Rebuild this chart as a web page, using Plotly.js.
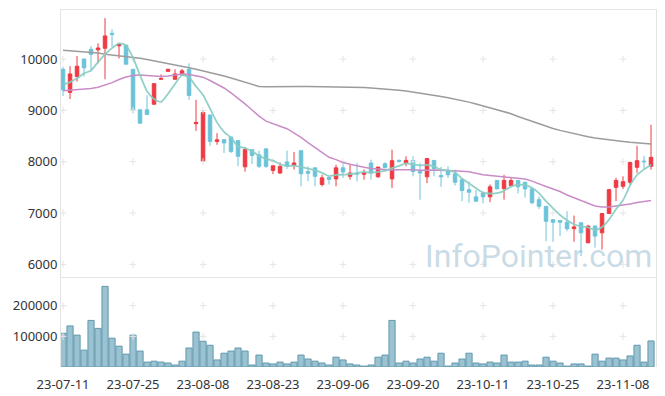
<!DOCTYPE html>
<html>
<head>
<meta charset="utf-8">
<script src="https://cdn.plot.ly/plotly-3.0.1.min.js"></script>
<style>
  html, body { margin: 0; padding: 0; background: #ffffff; }
  #chart { width: 665px; height: 396px; }
</style>
</head>
<body>
<div id="chart"></div>
<script>
// ---- Data ----
const dates = [
  "23-07-11","23-07-12","23-07-13","23-07-14","23-07-17","23-07-18","23-07-19","23-07-20","23-07-21","23-07-24",
  "23-07-25","23-07-26","23-07-27","23-07-28","23-07-31","23-08-01","23-08-02","23-08-03","23-08-04","23-08-07",
  "23-08-08","23-08-09","23-08-10","23-08-11","23-08-14","23-08-16","23-08-17","23-08-18","23-08-21","23-08-22",
  "23-08-23","23-08-24","23-08-25","23-08-28","23-08-29","23-08-30","23-08-31","23-09-01","23-09-04","23-09-05",
  "23-09-06","23-09-07","23-09-08","23-09-11","23-09-12","23-09-13","23-09-14","23-09-15","23-09-18","23-09-19",
  "23-09-20","23-09-21","23-09-22","23-09-25","23-09-26","23-09-27","23-10-04","23-10-05","23-10-06","23-10-10",
  "23-10-11","23-10-12","23-10-13","23-10-16","23-10-17","23-10-18","23-10-19","23-10-20","23-10-23","23-10-24",
  "23-10-25","23-10-26","23-10-27","23-10-30","23-10-31","23-11-01","23-11-02","23-11-03","23-11-06","23-11-07",
  "23-11-08","23-11-09","23-11-10","23-11-13","23-11-14"
];
const openP = [
  9800,9350,9660,10000,10190,10180,10210,10500,10258,10270,
  9800,9010,9010,9120,9605,9760,9605,9690,9800,8740,
  8006,8910,8395,8430,8480,8410,7900,8235,8135,8250,
  7830,7780,7995,7930,8215,7810,7880,7555,7695,7665,
  7880,7715,7780,7755,7975,7705,7960,7665,8025,7975,
  8025,7810,7705,8025,7730,7830,7765,7650,7455,7315,
  7390,7315,7635,7475,7535,7635,7600,7470,7260,7130,
  6870,6855,6820,6695,6810,6420,6745,6615,6990,7500,
  7520,7600,7890,8010,7910
];
const highP = [
  9850,9860,10060,10000,10250,10305,10796,10580,10290,10275,
  9800,9010,9295,9530,9700,9810,9800,9805,9915,9205,
  8996,8910,8555,8430,8480,8410,8285,8235,8215,8250,
  7925,7985,8215,8190,8215,7910,7880,7745,7700,7940,
  8005,7940,7975,7850,8040,7900,7990,8235,8045,8105,
  8105,7975,8060,8025,7900,7910,7845,7650,7615,7450,
  7420,7555,7640,7745,7680,7640,7600,7470,7320,7135,
  6880,6860,7035,6950,6820,6770,6760,7000,7470,7685,
  7715,8000,8310,8115,8720
];
const lowP = [
  9280,9220,9560,9660,9760,9915,9605,10230,10010,9895,
  8945,8750,8915,9110,9600,9750,9600,9685,9205,8600,
  8006,8310,8330,8170,8170,7910,7805,7955,7880,7880,
  7760,7760,7860,7845,7520,7620,7520,7515,7555,7520,
  7685,7650,7615,7650,7650,7690,7885,7490,7985,7910,
  7715,7260,7580,7715,7510,7685,7535,7230,7200,7230,
  7190,7210,7465,7260,7530,7380,7300,7170,7080,6450,
  6440,6550,6645,6440,6160,6420,6325,6290,6990,7230,
  7470,7550,7780,7860,7845
];
const closeP = [
  9400,9710,9860,9830,10090,10215,10450,10480,10285,9900,
  9010,8750,8920,9520,9620,9800,9710,9770,9290,8765,
  8957,8395,8425,8365,8200,8105,8235,8120,7910,7910,
  7920,7905,7915,7975,7765,7775,7715,7685,7655,7880,
  7800,7780,7760,7790,7780,7895,7885,8020,8005,8025,
  7810,7780,8060,7865,7705,7745,7600,7440,7405,7230,
  7315,7510,7470,7635,7635,7510,7470,7200,7130,6840,
  6820,6820,6695,6730,6615,6745,6550,6990,7455,7635,
  7610,7985,8020,8000,8085
];
const volume = [
  110000,134000,104000,55000,152000,126000,263000,94000,68000,42000,
  104000,52000,16000,19000,16000,13000,6500,19000,62000,114000,
  84000,71000,23000,45000,52000,62000,52000,6500,39000,13000,
  10000,16000,10000,16000,39000,26000,19000,13000,6500,32000,
  23000,10000,6500,3000,6500,32000,39000,152000,13000,19000,
  13000,26000,32000,19000,45000,3000,13000,26000,45000,13000,
  10000,16000,13000,39000,16000,16000,19000,6500,6500,32000,
  19000,13000,3000,10000,10000,3000,42000,19000,29000,29000,
  23000,36000,71000,16000,85000
];
const ma5 = [
  9495,9550,9625,9720,9778,9941,10089,10213,10304,10266,
  10025,9685,9373,9220,9164,9322,9514,9684,9638,9467,
  9298,9035,8766,8581,8468,8298,8266,8205,8114,8056,
  8019,7953,7912,7925,7896,7867,7829,7783,7719,7742,
  7747,7760,7775,7802,7782,7801,7822,7874,7917,7966,
  7949,7928,7936,7908,7844,7831,7795,7671,7579,7484,
  7398,7380,7386,7432,7513,7552,7544,7490,7389,7230,
  7092,6962,6861,6781,6736,6721,6667,6726,6871,7075,
  7248,7535,7741,7850,7940
];
const ma20 = [
  9380,9390,9400,9410,9425,9450,9490,9540,9600,9650,
  9680,9690,9680,9665,9660,9670,9690,9710,9700,9669,
  9647,9581,9509,9436,9341,9236,9125,9007,8888,8789,
  8734,8692,8642,8565,8472,8371,8271,8167,8085,8041,
  7983,7952,7919,7890,7869,7859,7841,7836,7841,7847,
  7841,7835,7842,7837,7834,7832,7826,7814,7802,7769,
  7745,7731,7717,7709,7702,7683,7662,7621,7577,7518,
  7468,7420,7352,7295,7241,7191,7138,7116,7118,7139,
  7153,7177,7205,7223,7245
];
const ma60 = [
  10170,10160,10150,10140,10130,10115,10095,10080,10065,10045,
  10030,10015,9990,9965,9940,9915,9890,9860,9830,9800,
  9770,9740,9705,9670,9630,9590,9545,9500,9465,9460,
  9458,9458,9460,9462,9463,9463,9462,9461,9460,9458,
  9455,9452,9448,9443,9436,9428,9418,9406,9392,9375,
  9357,9338,9318,9296,9272,9246,9220,9190,9160,9125,
  9090,9050,9010,8970,8935,8880,8830,8780,8730,8685,
  8645,8610,8575,8540,8510,8485,8460,8440,8425,8410,
  8395,8380,8368,8358,8345
];
const priceTicks = [6000, 7000, 8000, 9000, 10000];
const volumeTicks = [100000, 200000];
const dateTickIdx = [0, 10, 20, 30, 40, 50, 60, 70, 80];

// ---- Build ----
const tickDates = dateTickIdx.map(i => dates[i]);
const gridX = [], gridY = [], gridX2 = [], gridY2 = [];
tickDates.forEach(d => {
  priceTicks.forEach(p => { gridX.push(d); gridY.push(p); });
  volumeTicks.forEach(v => { gridX2.push(d); gridY2.push(v); });
});

const RED = '#ee3a43';
const BLUE = '#6cc3d9';
const crossMarker = { symbol: 'cross-thin', size: 5, line: { color: '#e4e4e4', width: 1 } };

const traces = [
  { type: 'candlestick', x: dates, open: openP, high: highP, low: lowP, close: closeP,
    xaxis: 'x', yaxis: 'y', whiskerwidth: 0,
    increasing: { line: { color: RED, width: 1 }, fillcolor: RED },
    decreasing: { line: { color: BLUE, width: 1 }, fillcolor: BLUE },
    showlegend: false, hoverinfo: 'skip' },
  { type: 'bar', x: dates, y: volume, xaxis: 'x2', yaxis: 'y2',
    marker: { color: 'rgba(143,187,204,0.9)', line: { color: '#6198ae', width: 1 } },
    showlegend: false, hoverinfo: 'skip' },
  { type: 'scatter', mode: 'markers', x: gridX, y: gridY, xaxis: 'x', yaxis: 'y',
    marker: crossMarker, hoverinfo: 'skip', showlegend: false },
  { type: 'scatter', mode: 'markers', x: gridX2, y: gridY2, xaxis: 'x2', yaxis: 'y2',
    marker: crossMarker, hoverinfo: 'skip', showlegend: false },
  { type: 'scatter', mode: 'lines', x: dates, y: ma60, xaxis: 'x', yaxis: 'y',
    line: { color: '#9c9c9c', width: 1.5 }, showlegend: false, hoverinfo: 'skip' },
  { type: 'scatter', mode: 'lines', x: dates, y: ma20, xaxis: 'x', yaxis: 'y',
    line: { color: '#c98cc6', width: 1.5 }, showlegend: false, hoverinfo: 'skip' },
  { type: 'scatter', mode: 'lines', x: dates, y: ma5, xaxis: 'x', yaxis: 'y',
    line: { color: 'rgba(135,204,194,0.9)', width: 1.8, shape: 'spline', smoothing: 0.6 },
    showlegend: false, hoverinfo: 'skip' }
];

const xr = [-0.29, dates.length - 0.29];
const layout = {
  width: 665, height: 396,
  margin: { l: 61, r: 9, t: 10, b: 29 },
  paper_bgcolor: '#ffffff', plot_bgcolor: '#ffffff',
  font: { family: '"Noto Sans", "DejaVu Sans", sans-serif', size: 13, color: '#3a3a3a' },
  hovermode: false,
  boxgap: 0.28,
  bargap: 0.12,
  xaxis: {
    type: 'category', categoryorder: 'array', categoryarray: dates,
    anchor: 'y', range: xr, showticklabels: false, ticks: '',
    showgrid: false, zeroline: false, showline: true, mirror: true, linecolor: '#e4e4e4', linewidth: 1,
    rangeslider: { visible: false }
  },
  xaxis2: {
    type: 'category', categoryorder: 'array', categoryarray: dates,
    anchor: 'y2', matches: 'x', range: xr,
    tickmode: 'array', tickvals: tickDates, ticktext: tickDates,
    ticks: 'outside', ticklen: 5, tickcolor: 'rgba(0,0,0,0)',
    showgrid: false, zeroline: false, showline: false,
    tickfont: { size: 13, color: '#333333' }
  },
  yaxis: {
    domain: [0.252, 1], range: [5753, 10955],
    tickmode: 'array', tickvals: priceTicks, tickformat: 'd',
    showgrid: false, zeroline: false, showline: true, mirror: true, linecolor: '#e4e4e4', linewidth: 1,
    ticks: '', tickfont: { size: 13, color: '#333333' }
  },
  yaxis2: {
    domain: [0, 0.249], range: [0, 290000],
    tickmode: 'array', tickvals: volumeTicks, tickformat: 'd',
    showgrid: false, zeroline: false, showline: true, mirror: true, linecolor: '#e4e4e4', linewidth: 1,
    ticks: '', tickfont: { size: 13, color: '#333333' }
  },
  annotations: [{
    xref: 'paper', yref: 'paper', x: 0.803, y: 0.311, xanchor: 'center', yanchor: 'middle',
    text: 'InfoPointer.com', showarrow: false,
    font: { family: 'Roboto, "Noto Sans", sans-serif', size: 32, color: 'rgba(165,195,212,0.6)' }
  }]
};

Plotly.newPlot('chart', traces, layout, { staticPlot: true, displayModeBar: false });
</script>
</body>
</html>
